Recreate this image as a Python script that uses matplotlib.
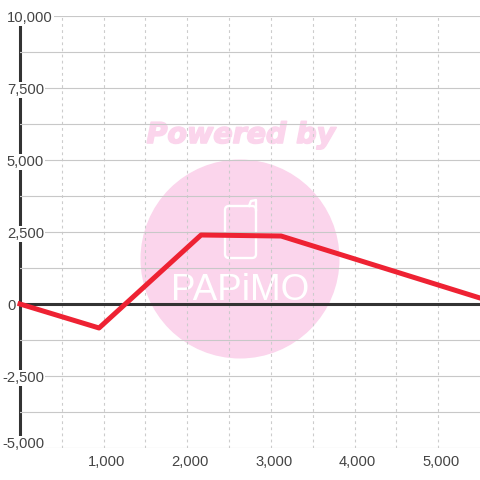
import matplotlib
matplotlib.use("Agg")
import matplotlib.pyplot as plt
import matplotlib.patheffects as pe
from matplotlib.patches import Circle, FancyBboxPatch
from matplotlib.transforms import ScaledTranslation

x_values = [0, 945, 2165, 3122, 5500]
y_values = [0, -833, 2396, 2360, 208]
x_major = [1000, 2000, 3000, 4000, 5000]
x_minor = [500, 1500, 2500, 3500, 4500]
y_major = [-5000, -2500, 0, 2500, 5000, 7500, 10000]
y_minor = [-3750, -1250, 1250, 3750, 6250, 8750]

plt.rcParams["font.family"] = ["Liberation Sans", "DejaVu Sans"]

W = 480
fig = plt.figure(figsize=(4.8, 4.8), dpi=100)

# watermark, in pixel coordinates
bg = fig.add_axes([0, 0, 1, 1], zorder=0)
bg.set_xlim(0, W)
bg.set_ylim(W, 0)
bg.axis("off")
pink = "#fbd5ec"
bg.add_patch(Circle((240, 259), 99.5, color=pink, lw=0))
bg.text(241, 135, "Powered by", color=pink, fontsize=20.5, ha="center", va="center",
        family="DejaVu Sans", weight="bold", style="oblique",
        path_effects=[pe.withStroke(linewidth=1.2, foreground=pink)])
bg.add_patch(FancyBboxPatch((225, 206), 31, 52, boxstyle="round,pad=0,rounding_size=4",
                            fc="none", ec="white", lw=1.7))
bg.plot([249, 251, 256, 256], [206, 201, 200, 210], color="white", lw=1.7)
bg.text(240, 290, "PAPiMO", color="white", fontsize=26.5, ha="center", va="center")

# main chart
ax = fig.add_axes([20 / W, (W - 448) / W, 460 / W, 432 / W], zorder=1)
ax.patch.set_visible(False)
ax.set_xlim(0, 5500)
ax.set_ylim(-5000, 10000)
ax.set_axisbelow(True)

for name in ["top", "right", "bottom"]:
    ax.spines[name].set_visible(False)
ax.spines["left"].set_color("#333333")
ax.spines["left"].set_linewidth(2.2)
ax.spines["left"].set_zorder(0.3)

ax.set_xticks(x_major)
ax.set_xticks(x_minor, minor=True)
ax.set_yticks(y_major)
ax.set_yticks(y_minor, minor=True)
ax.set_xticklabels([f"{v:,}" for v in x_major])
ax.set_yticklabels([f"{v:,}" for v in y_major])

ax.grid(True, axis="y", which="both", color="#c8c8c8", lw=0.8)
ax.grid(True, axis="x", which="both", color="#cccccc", lw=0.8, ls=(0, (2.5, 3)))
ax.tick_params(which="both", length=0)
ax.tick_params(axis="x", pad=5, labelsize=10.6, labelcolor="#444444")
ax.tick_params(axis="y", labelsize=10.6, labelcolor="#444444")

# labels sit over the axis line and hide it
for v, tick in zip(y_major, ax.yaxis.get_major_ticks()):
    tick.set_pad(12.9 if v < 0 else 9.4)
    lab = tick.label1
    lab.set_ha("left")
    lab.set_bbox(dict(fc="white", ec="none", pad=0.6))
    # the lowest label is pushed up to stay inside the plot
    shift = 6 if v == -5000 else -0.5
    lab.set_transform(lab.get_transform() + ScaledTranslation(0, shift / 100, fig.dpi_scale_trans))
for tick in ax.xaxis.get_major_ticks():
    lab = tick.label1
    lab.set_transform(lab.get_transform() + ScaledTranslation(3 / 100, 0, fig.dpi_scale_trans))

ax.axhline(0, color="#333333", lw=2.2, zorder=1)
ax.plot(x_values, y_values, color="#ee2233", lw=3.6, clip_on=False, zorder=3,
        solid_joinstyle="round")

fig.savefig("out.png", dpi=100)
